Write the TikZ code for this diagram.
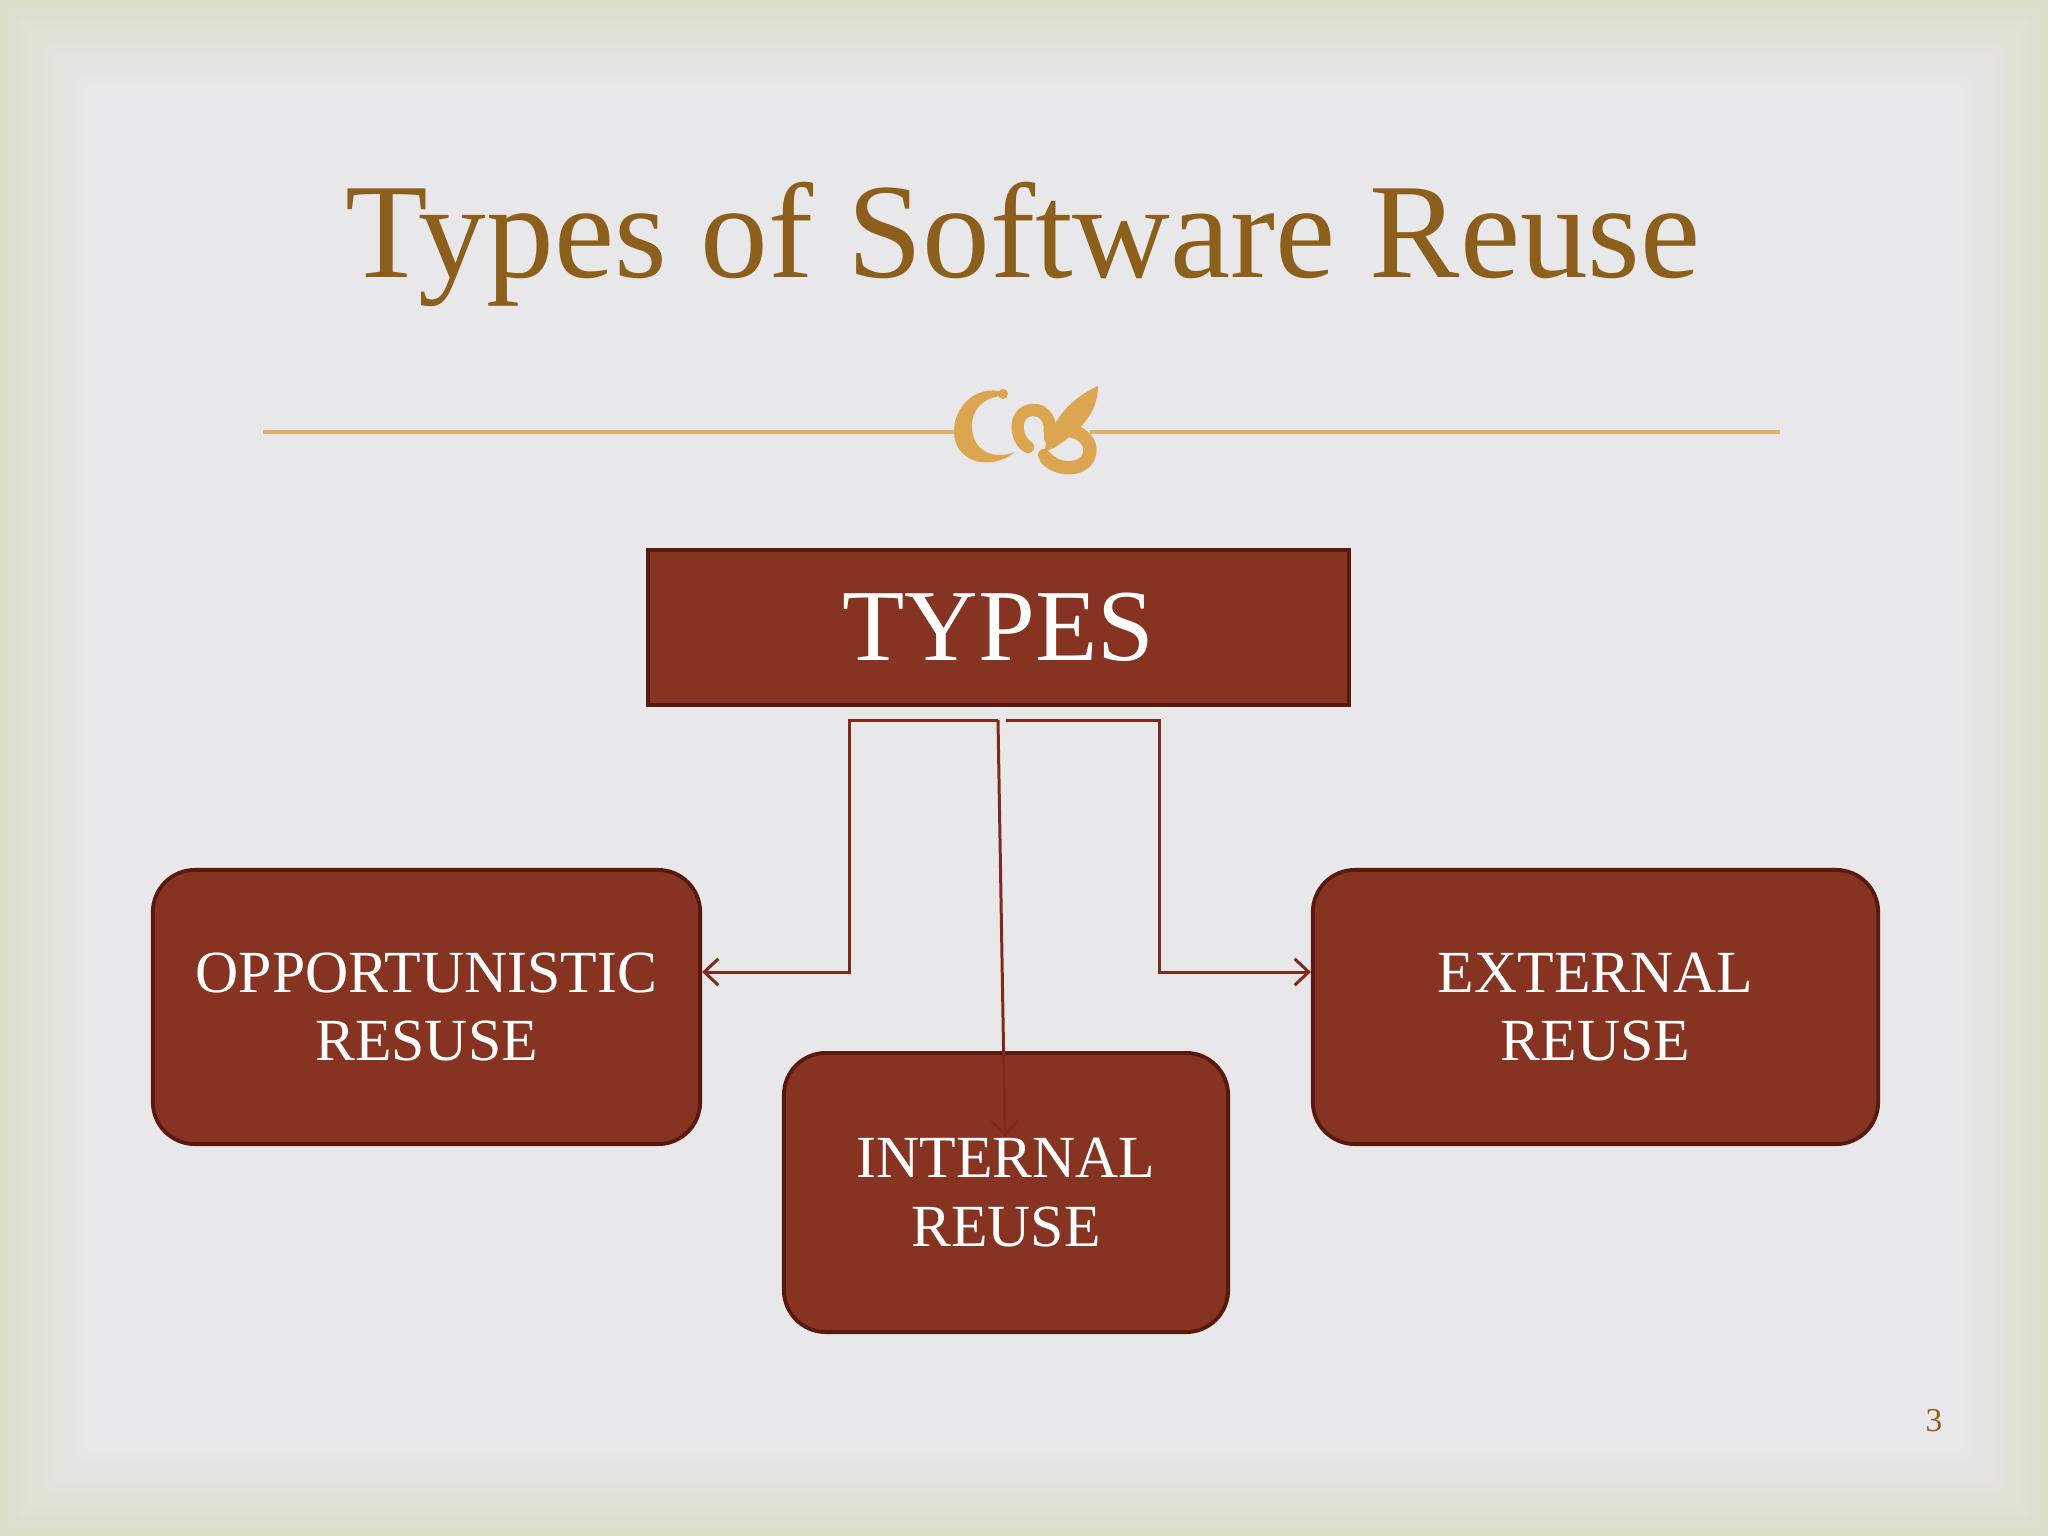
\documentclass[tikz,border=0pt]{standalone}
\usepackage{fontspec}
\setmainfont{Liberation Serif}
\usetikzlibrary{arrows.meta}
\definecolor{bgmain}{HTML}{E8E7E9}
\definecolor{bgedge}{HTML}{DCDFCA}
\definecolor{boxfill}{HTML}{873322}
\definecolor{boxline}{HTML}{5A190F}
\definecolor{connline}{HTML}{7E2A1C}
\definecolor{titlecol}{HTML}{8C5F1C}
\definecolor{ornacol}{HTML}{DCA550}
\definecolor{rulecol}{HTML}{E0AE68}
\tikzset{
  rbox/.style={draw=boxline, line width=1.1pt, fill=boxfill, rounded corners=0.42cm,
    text=white, align=center, inner sep=0pt, font=\fontsize{17}{19.5}\selectfont},
  topbox/.style={draw=boxline, line width=1.2pt, fill=boxfill, text=white, inner sep=0pt,
    minimum width=7.01cm, minimum height=1.55cm, font=\fontsize{29}{34}\selectfont},
  conn/.style={draw=connline, line width=0.85pt, -{Straight Barb[length=4pt,width=7.5pt]}},
  orna/.style={ornacol, line cap=round},
}
\begin{document}
\begin{tikzpicture}[x=0.01cm,y=-0.01cm]
\useasboundingbox (0,0) rectangle (2048,1536);
% background with soft edge
\foreach \i [evaluate=\i as \p using int(\i*2.5)] in {0,...,40} {
  \fill[bgmain!\p!bgedge] (\i*2.2,\i*2.2) rectangle (2048-\i*2.2,1536-\i*2.2);
}
% title
\node[anchor=base, text=titlecol, font=\fontsize{38.5}{44}\selectfont, inner sep=0pt] (title) at (1023,277) {Types of Software Reuse};
% rule with ornament
\coordinate (ruleL) at (263,432);
\coordinate (ruleR) at (1780,432);
\coordinate (gapL) at (958,432);
\coordinate (gapR) at (1090,432);
\draw[rulecol, line width=0.9pt] (ruleL) -- (gapL);
\draw[rulecol, line width=0.9pt] (gapR) -- (ruleR);
% ornament: C
\fill[orna] (1004,392) .. controls (975,384) and (953,408) .. (954,433)
  .. controls (955,462) and (990,472) .. (1015,452)
  .. controls (995,460) and (973,452) .. (972,428)
  .. controls (971,408) and (986,396) .. (1004,396) -- cycle;
\fill[orna] (1003,394) circle (5);
% ornament: B-like curl
\draw[orna, line width=3.5pt] (1028,447) .. controls (1015,440) and (1012,412) .. (1032,410)
  .. controls (1046,409) and (1052,422) .. (1050,438);
\fill[orna] (1028,447) circle (4.5);
\fill[orna] (1044,452) .. controls (1052,418) and (1072,398) .. (1098,386)
  .. controls (1098,415) and (1078,432) .. (1054,448) -- cycle;
\draw[orna, line width=3.8pt] (1050,430) .. controls (1082,426) and (1095,443) .. (1088,458)
  .. controls (1080,472) and (1056,470) .. (1046,458);
\fill[orna] (1044,455) circle (6);
% nodes
\node[topbox] (types) at (998.5,627.5) {TYPES};
\node[rbox, minimum width=5.47cm, minimum height=2.74cm] (opp) at (426.5,1007) {OPPORTUNISTIC\\RESUSE};
\node[rbox, minimum width=4.44cm, minimum height=2.79cm] (int) at (1006,1192.5) {INTERNAL\\REUSE};
\node[rbox, minimum width=5.65cm, minimum height=2.74cm] (ext) at (1595.5,1007) {EXTERNAL\\REUSE};
% connectors
\coordinate (s1) at (998,720);
\coordinate (s2) at (1006,720);
\coordinate (lcor) at (849,720);
\coordinate (lbend) at (849,972);
\coordinate (rcor) at (1159,720);
\coordinate (rbend) at (1159,972);
\coordinate (cend) at (1005,1137);
\draw[conn] (s1) -- (lcor) -- (lbend) -- (lbend -| opp.east);
\draw[conn] (s2) -- (rcor) -- (rbend) -- (rbend -| ext.west);
\draw[conn] (s1) -- (cend);
% page number
\node[text=titlecol, font=\fontsize{9.5}{11}\selectfont, inner sep=0pt] (pnum) at (1934,1421) {3};
\end{tikzpicture}
\end{document}
